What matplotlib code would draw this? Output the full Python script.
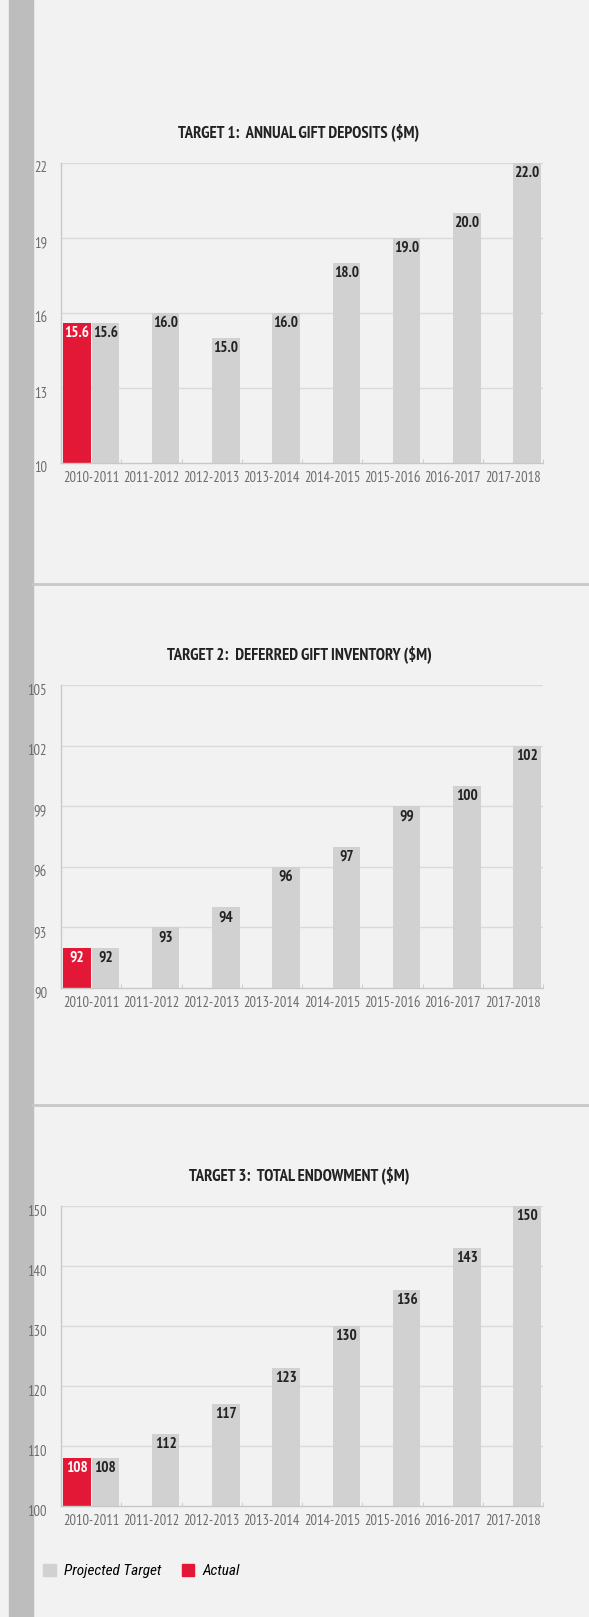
import matplotlib
matplotlib.use("Agg")
import matplotlib.pyplot as plt
import matplotlib.transforms as mtransforms
from matplotlib.patches import Patch
import numpy as np

# ---- data ----
PERIODS = ["2010-2011", "2011-2012", "2012-2013", "2013-2014",
           "2014-2015", "2015-2016", "2016-2017", "2017-2018"]

TITLE_1 = "TARGET 1:  ANNUAL GIFT DEPOSITS ($M)"
TARGET_1 = [15.6, 16.0, 15.0, 16.0, 18.0, 19.0, 20.0, 22.0]
ACTUAL_1 = [15.6]
YTICKS_1 = [10, 13, 16, 19, 22]

TITLE_2 = "TARGET 2:  DEFERRED GIFT INVENTORY ($M)"
TARGET_2 = [92, 93, 94, 96, 97, 99, 100, 102]
ACTUAL_2 = [92]
YTICKS_2 = [90, 93, 96, 99, 102, 105]

TITLE_3 = "TARGET 3:  TOTAL ENDOWMENT ($M)"
TARGET_3 = [108, 112, 117, 123, 130, 136, 143, 150]
ACTUAL_3 = [108]
YTICKS_3 = [100, 110, 120, 130, 140, 150]

# ---- style ----
BG = "#f2f2f2"
STRIP = "#bdbdbd"
GRAY_BAR = "#d1d1d1"
RED_BAR = "#e31837"
GRID = "#dadada"
AXIS = "#c8c8c8"
TICK_TXT = "#6e6e6e"
DARK = "#222222"

# narrow face first, condensed DejaVu as fallback
FONT = ["PT Sans Narrow", "DejaVu Sans"]
ITALIC_FONT = ["Roboto Condensed", "DejaVu Sans"]
plt.rcParams["font.family"] = FONT
plt.rcParams["font.stretch"] = "condensed"

W, H = 589, 1617
fig = plt.figure(figsize=(W / 100, H / 100), dpi=100, facecolor=BG)

# left grey strip and horizontal separators
fig.add_artist(plt.Rectangle((9 / W, 0), 24 / W, 1, transform=fig.transFigure,
                             color=STRIP, zorder=0))
for ysep in (584, 1105):
    fig.add_artist(plt.Line2D([33 / W, 1], [1 - ysep / H] * 2,
                              transform=fig.transFigure, color=AXIS, lw=2))

AX_LEFT, AX_RIGHT = 61, 543


def draw_panel(top_px, bot_px, title, targets, actuals, yticks, fmt):
    ax = fig.add_axes([AX_LEFT / W, 1 - bot_px / H,
                       (AX_RIGHT - AX_LEFT) / W, (bot_px - top_px) / H])
    ax.set_facecolor(BG)
    n = len(targets)
    x = np.arange(n)
    bw = 0.455
    off = 0.237

    ax.bar(x + off, targets, width=bw, color=GRAY_BAR, zorder=2)
    ax.bar(x[:len(actuals)] - off, actuals, width=bw, color=RED_BAR, zorder=2)

    lab_off = mtransforms.offset_copy(ax.transData, fig=fig, y=-10, units="dots")
    for xi, v in zip(x + off, targets):
        ax.text(xi, v, fmt.format(v), transform=lab_off, ha="center",
                va="center", fontsize=11, fontweight="bold", color=DARK,
                zorder=3)
    for xi, v in zip(x[:len(actuals)] - off, actuals):
        ax.text(xi, v, fmt.format(v), transform=lab_off, ha="center",
                va="center", fontsize=11, fontweight="bold", color="white",
                zorder=3)

    ax.set_xlim(-0.5, n - 0.5)
    ax.set_ylim(yticks[0], yticks[-1])
    ax.set_yticks(yticks)
    ax.set_xticks(x)
    ax.set_xticklabels(PERIODS)
    ax.set_xticks(np.arange(n + 1) - 0.5, minor=True)

    for y in yticks[1:]:
        ax.axhline(y, color=GRID, lw=1, zorder=1)

    for side in ("top", "right"):
        ax.spines[side].set_visible(False)
    for side in ("left", "bottom"):
        ax.spines[side].set_color(AXIS)
        ax.spines[side].set_linewidth(1)

    ax.tick_params(axis="y", length=0, pad=10, labelsize=10.5,
                   labelcolor=TICK_TXT)
    ax.tick_params(axis="x", which="major", length=0, pad=6, labelsize=10.5,
                   labelcolor=TICK_TXT)
    ax.tick_params(axis="x", which="minor", length=3, direction="in",
                   color=AXIS)
    # y labels sit a little below their gridlines
    shift = mtransforms.ScaledTranslation(0, -4 / 100, fig.dpi_scale_trans)
    for lbl in ax.get_yticklabels():
        lbl.set_transform(lbl.get_transform() + shift)

    fig.text(299 / W, 1 - (top_px - 31) / H, title, ha="center", va="center",
             fontsize=12, fontweight="bold", color=DARK)
    return ax


draw_panel(163, 463, TITLE_1, TARGET_1, ACTUAL_1, YTICKS_1, "{:.1f}")
draw_panel(685, 988, TITLE_2, TARGET_2, ACTUAL_2, YTICKS_2, "{:.0f}")
draw_panel(1206, 1506, TITLE_3, TARGET_3, ACTUAL_3, YTICKS_3, "{:.0f}")

handles = [Patch(color=GRAY_BAR, label="Projected Target"),
           Patch(color=RED_BAR, label="Actual")]
fig.legend(handles=handles, loc="center left",
           bbox_to_anchor=(43 / W, 1 - 1571 / H), ncol=2, frameon=False,
           borderpad=0, borderaxespad=0,
           handlelength=0.85, handleheight=0.85, handletextpad=0.55,
           columnspacing=1.3,
           prop={"family": ITALIC_FONT, "style": "italic", "size": 11,
                 "stretch": "condensed"})

fig.savefig("out.png", dpi=100, facecolor=BG)
